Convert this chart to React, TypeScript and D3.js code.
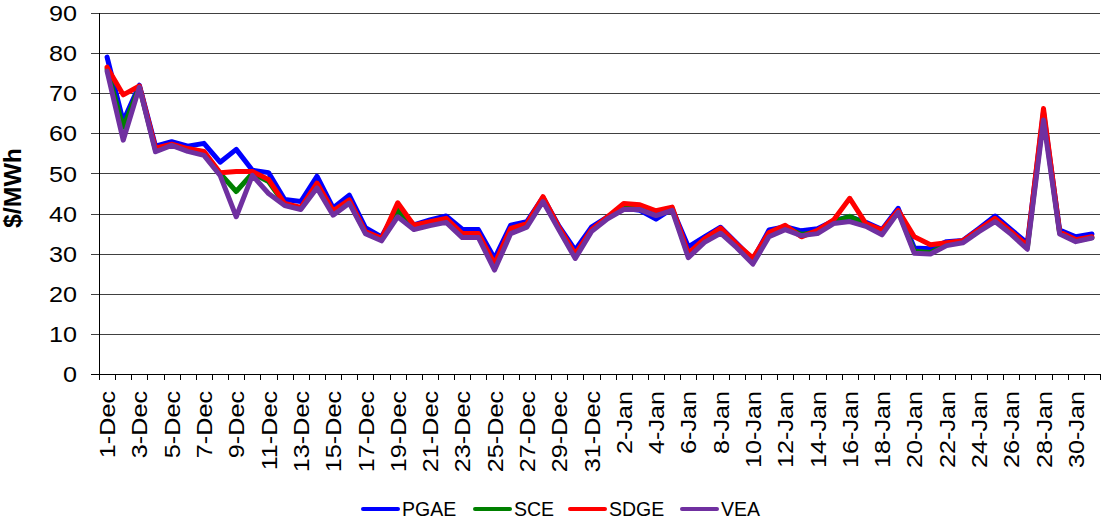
import React from 'react';
import * as d3 from 'd3';

const days = [
  '1-Dec', '2-Dec', '3-Dec', '4-Dec', '5-Dec', '6-Dec', '7-Dec', '8-Dec', '9-Dec', '10-Dec',
  '11-Dec', '12-Dec', '13-Dec', '14-Dec', '15-Dec', '16-Dec', '17-Dec', '18-Dec', '19-Dec', '20-Dec',
  '21-Dec', '22-Dec', '23-Dec', '24-Dec', '25-Dec', '26-Dec', '27-Dec', '28-Dec', '29-Dec', '30-Dec',
  '31-Dec', '1-Jan', '2-Jan', '3-Jan', '4-Jan', '5-Jan', '6-Jan', '7-Jan', '8-Jan', '9-Jan',
  '10-Jan', '11-Jan', '12-Jan', '13-Jan', '14-Jan', '15-Jan', '16-Jan', '17-Jan', '18-Jan', '19-Jan',
  '20-Jan', '21-Jan', '22-Jan', '23-Jan', '24-Jan', '25-Jan', '26-Jan', '27-Jan', '28-Jan', '29-Jan',
  '30-Jan', '31-Jan',
];

const pgae = [
  79, 63, 72, 56.8, 57.9, 56.8, 57.5, 52.8, 56, 50.8,
  50.2, 43.5, 43, 49.3, 41.4, 44.6, 36.5, 34.2, 41.4, 37.2,
  38.4, 39.4, 36.1, 36, 28.8, 37.1, 38, 44, 36.8, 30.9,
  36.6, 39.2, 41.3, 40.8, 38.6, 41.2, 31.7, 34.2, 36.6, 32.6,
  28.5, 35.9, 36.7, 35.7, 36.2, 38.2, 39.2, 37.8, 36, 41.3,
  31.4, 31.2, 33, 33.3, 36.3, 39.4, 36, 32.6, 65.3, 35.9,
  34.2, 34.9,
];

const sce = [
  76, 61.5, 71.6, 55.8, 57.1, 55.8, 55, 50, 45.5, 50,
  48, 42.3, 41.3, 47, 40.2, 43, 35.3, 33.5, 41, 36.6,
  37.5, 38.3, 34.5, 34.5, 26.7, 35.7, 37, 43.6, 36.2, 29.3,
  35.8, 39, 41.7, 41.5, 40, 41.2, 29.6, 33.2, 35.8, 32,
  28.1, 34.8, 36.5, 34.8, 35.4, 38, 39.3, 37.4, 35.3, 40.6,
  30.6, 30.3, 32.3, 33, 35.8, 38.4, 35.2, 31.5, 64.5, 35.2,
  33.2, 34,
];

const sdge = [
  76.5, 69.6, 71.8, 56.3, 57.3, 56.2, 55.5, 50.2, 50.5, 50.5,
  48.5, 42.5, 41.5, 47.6, 40.7, 43.4, 35.5, 33.8, 42.7, 37.1,
  38, 38.8, 35, 35, 27.5, 36.3, 37.5, 44.2, 36.5, 29.9,
  36, 39.2, 42.5, 42.2, 40.7, 41.6, 30.1, 33.7, 36.4, 32.4,
  28.9, 35.3, 37.1, 34.2, 35.8, 38.4, 43.8, 37.5, 35.9, 40.8,
  34.2, 32.2, 32.7, 33.2, 36, 38.8, 35.5, 32, 66.2, 35.4,
  33.5, 34.2,
];

const vea = [
  75.5, 58.3, 71.5, 55.4, 57, 55.5, 54.5, 49.5, 39.2, 49.5,
  45, 42, 41, 46.4, 39.6, 42.6, 35, 33.2, 39.2, 36,
  37, 37.8, 34, 34, 25.9, 35, 36.6, 43, 35.8, 28.8,
  35.5, 38.7, 41, 41, 39.5, 40.8, 29, 32.8, 35.1, 31.5,
  27.4, 34.2, 36, 34.5, 35, 37.5, 38, 36.8, 34.7, 40.3,
  30.1, 29.9, 32, 32.7, 35.5, 38, 34.8, 31.1, 63.3, 34.9,
  33, 33.9,
];

const yTicks = [0, 10, 20, 30, 40, 50, 60, 70, 80, 90];

const series = [
  { name: 'PGAE', values: pgae, color: '#0000ff' },
  { name: 'SCE', values: sce, color: '#008000' },
  { name: 'SDGE', values: sdge, color: '#ff0000' },
  { name: 'VEA', values: vea, color: '#7030a0' },
];

const W = 1102;
const H = 523;
const left = 99;
const right = 1100;
const top = 13;
const bottom = 374;
const font = 'Arial, "Liberation Sans", sans-serif';

export default function App() {
  const x = d3.scaleBand<string>().domain(days).range([left, right]).padding(0);
  const y = d3.scaleLinear().domain([0, 90]).range([bottom, top]);
  const cx = (d: string) => (x(d) ?? 0) + x.bandwidth() / 2;

  const line = d3
    .line<number>()
    .x((_, i) => cx(days[i]))
    .y((v) => y(v));

  // tick marks sit on the category boundaries
  const boundaries = d3.range(days.length + 1).map((k) => left + k * x.bandwidth());

  const legendX = [363, 475, 570, 682];

  return (
    <svg width={W} height={H} style={{ position: 'absolute', left: 0, top: 0, background: '#fff' }} fontFamily={font}>
      {yTicks.map((t) => (
        <g key={t}>
          <line x1={left - 8} x2={right} y1={Math.round(y(t)) + 0.5} y2={Math.round(y(t)) + 0.5} stroke="#000" strokeOpacity={t === 0 ? 1 : 0.75} />
          <text
            transform={`translate(77,${y(t)}) scale(1.12,1)`}
            dy="0.36em"
            textAnchor="end"
            fontSize={22.5}
            fill="#000"
          >
            {t}
          </text>
        </g>
      ))}

      <line x1={left + 0.5} x2={left + 0.5} y1={top} y2={bottom + 5} stroke="#000" />
      {boundaries.map((bx, k) => (
        <line key={k} x1={Math.round(bx) + 0.5} x2={Math.round(bx) + 0.5} y1={bottom} y2={bottom + 6} stroke="#000" />
      ))}

      {days.map((d, i) =>
        i % 2 === 0 ? (
          <text
            key={d}
            transform={`translate(${cx(d)},391) rotate(-90) scale(1.12,1)`}
            dy="0.36em"
            textAnchor="end"
            fontSize={22.5}
            fill="#000"
          >
            {d}
          </text>
        ) : null
      )}

      <text
        transform="translate(21,188) rotate(-90) scale(1.08,1)"
        textAnchor="middle"
        fontSize={23}
        fontWeight="bold"
        fill="#000"
      >
        $/MWh
      </text>

      {series.map((s) => (
        <path
          key={s.name}
          d={line(s.values) ?? ''}
          fill="none"
          stroke={s.color}
          strokeWidth={5}
          strokeLinejoin="round"
          strokeLinecap="round"
        />
      ))}

      {series.map((s, i) => (
        <g key={s.name} transform={`translate(${legendX[i]},509)`}>
          <line x1={0} x2={35} y1={0} y2={0} stroke={s.color} strokeWidth={4} strokeLinecap="round" />
          <text x={39} y={7} fontSize={19.5} fill="#000">
            {s.name}
          </text>
        </g>
      ))}
    </svg>
  );
}
